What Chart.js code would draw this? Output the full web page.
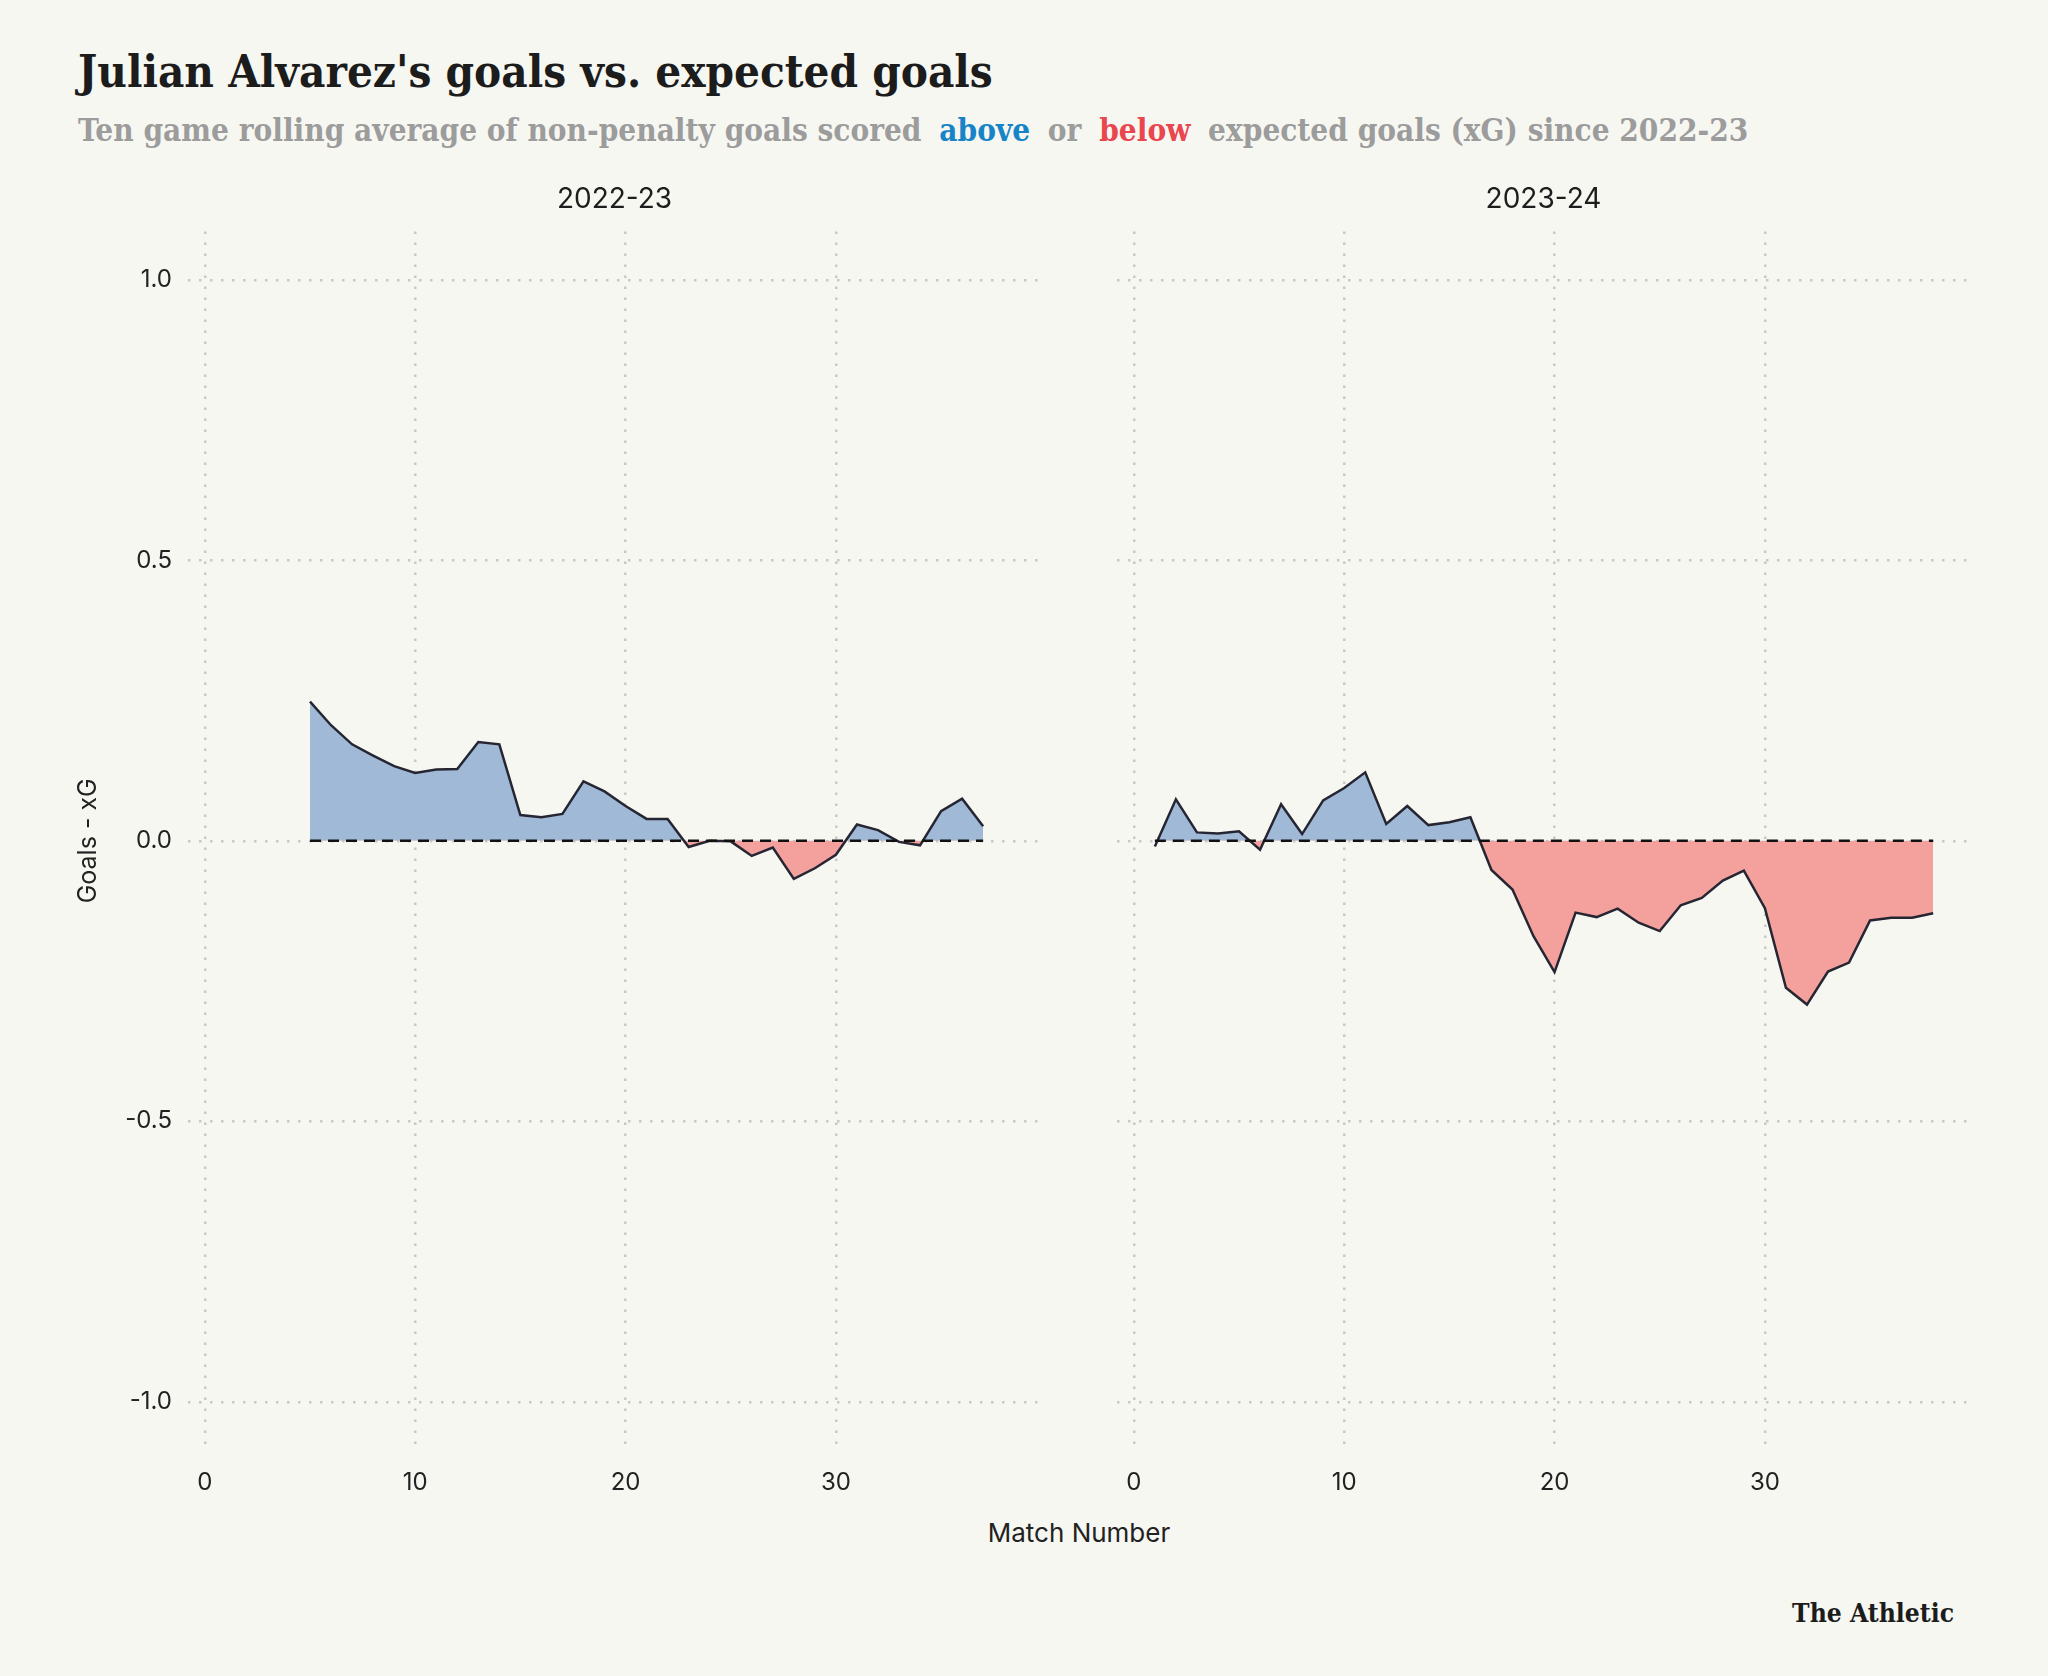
<!DOCTYPE html>
<html>
<head>
<meta charset="utf-8">
<script src="https://cdn.jsdelivr.net/npm/chart.js@4.4.1/dist/chart.umd.min.js"></script>
<style>
  body { margin: 0; background: #f7f7f2; width: 2048px; height: 1676px; position: relative; overflow: hidden; }
  .txt { position: absolute; white-space: nowrap; line-height: 1; }
  #title { left: 78px; top: 44px; font: bold 44px "DejaVu Serif Condensed", "DejaVu Serif", serif; color: #1c1c1c; }
  #subtitle { left: 78px; top: 112px; font: bold 32px "DejaVu Serif Condensed", "DejaVu Serif", serif; color: #9c9c9c; }
  #subtitle .above { color: #1784c7; margin: 0 8px; }
  #subtitle .below { color: #e9464f; margin: 0 8px; }
  #xtitle { left: 0; width: 2158px; top: 1517px; text-align: center; font: 26px Inter, sans-serif; color: #222; }
  #brand { right: 94px; top: 1597px; font: bold 29px "DejaVu Serif Condensed", "DejaVu Serif", serif; color: #1c1c1c; }
  canvas { position: absolute; }
  #panel1 { left: 40px; top: 170px; }
  #panel2 { left: 1117px; top: 170px; }
</style>
</head>
<body>
<div id="title" class="txt">Julian Alvarez's goals vs. expected goals</div>
<div id="subtitle" class="txt">Ten game rolling average of non-penalty goals scored <span class="above">above</span> or <span class="below">below</span> expected goals (xG) since 2022-23</div>
<canvas id="panel1" width="1001" height="1340"></canvas>
<canvas id="panel2" width="853" height="1340"></canvas>
<div id="xtitle" class="txt">Match Number</div>
<div id="brand" class="txt">The Athletic</div>

<script>
// Data -----------------------------------------------------------
const seasons = ["2022-23", "2023-24"];
const xTicks = [0, 10, 20, 30];
const yTicks = [-1.0, -0.5, 0.0, 0.5, 1.0];

// 2022-23: match number and rolling goals - xG
const matches2223 = [5, 6, 7, 8, 9, 10, 11, 12, 13, 14, 15, 16, 17, 18, 19, 20, 21,
    22, 23, 24, 25, 26, 27, 28, 29, 30, 31, 32, 33, 34, 35, 36, 37];
const diff2223 = [0.248, 0.206, 0.172, 0.152, 0.133, 0.121, 0.127, 0.128, 0.176, 0.172,
    0.046, 0.042, 0.048, 0.106, 0.088, 0.062, 0.039, 0.039, -0.011, 0.0, -0.001, -0.027,
    -0.012, -0.068, -0.049, -0.025, 0.029, 0.019, -0.002, -0.008, 0.053, 0.075, 0.026];

// 2023-24
const matches2324 = [1, 2, 3, 4, 5, 6, 7, 8, 9, 10, 11, 12, 13, 14, 15, 16, 17, 18, 19,
    20, 21, 22, 23, 24, 25, 26, 27, 28, 29, 30, 31, 32, 33, 34, 35, 36, 37, 38];
const diff2324 = [-0.01, 0.074, 0.015, 0.013, 0.017, -0.016, 0.065, 0.012, 0.072, 0.094,
    0.122, 0.030, 0.062, 0.028, 0.033, 0.042, -0.052, -0.087, -0.17, -0.234, -0.128,
    -0.136, -0.121, -0.146, -0.161, -0.115, -0.102, -0.071, -0.053, -0.12, -0.262, -0.292,
    -0.233, -0.217, -0.142, -0.137, -0.137, -0.129];

// Styles ----------------------------------------------------------
const fontFamily = "Inter, 'Noto Sans', sans-serif";
const gridColor = "#c8c8c8";

// Fit a text block to the width it has in the reference
function fitWidth(id, target) {
    let el = document.getElementById(id);
    let size = parseFloat(getComputedStyle(el).fontSize);
    let w = el.getBoundingClientRect().width;
    el.style.fontSize = (size * target / w) + "px";
}
fitWidth("title", 915);
fitWidth("subtitle", 1670);
fitWidth("brand", 162);

// Build one facet panel
function makePanel(canvasId, season, matches, values, showY) {
    let points = matches.map((m, i) => ({x: m, y: values[i]}));
    let zeroLine = [{x: matches[0], y: 0}, {x: matches[matches.length - 1], y: 0}];

    let config = {
        type: 'line',
        data: {
            datasets: [{
                data: points,
                borderColor: '#262633',
                borderWidth: 2.5,
                pointRadius: 0,
                tension: 0,
                fill: {target: {value: 0}, above: '#9fb9d6', below: '#f4a19d'},
                order: 1
            }, {
                data: zeroLine,
                borderColor: '#111111',
                borderWidth: 2.5,
                borderDash: [11, 7],
                pointRadius: 0,
                fill: false,
                order: 0
            }]
        },
        options: {
            responsive: false,
            animation: false,
            devicePixelRatio: 1,
            layout: {padding: 0},
            plugins: {
                legend: {display: false},
                tooltip: {enabled: false},
                title: {
                    display: true,
                    text: season,
                    fullSize: false,
                    color: '#1d1d1d',
                    font: {family: fontFamily, size: 28, weight: 'normal'},
                    padding: {top: 13, bottom: 15}
                }
            },
            scales: {
                x: {
                    type: 'linear',
                    min: -0.8,
                    max: 39.75,
                    afterBuildTicks: axis => { axis.ticks = xTicks.map(v => ({value: v})); },
                    afterFit: axis => { axis.height = 60; },
                    // invisible tick marks push the labels down without adding side padding
                    grid: {color: gridColor, lineWidth: 2.5, drawTicks: true, tickLength: 18, tickColor: 'rgba(0,0,0,0)'},
                    border: {display: false, dash: [2.5, 8.5]},
                    ticks: {color: '#222', font: {family: fontFamily, size: 24}, padding: 0, maxRotation: 0}
                },
                y: {
                    type: 'linear',
                    min: -1.086,
                    max: 1.086,
                    afterBuildTicks: axis => { axis.ticks = yTicks.map(v => ({value: v})); },
                    afterFit: axis => { axis.width = showY ? 148 : 0; },
                    grid: {color: gridColor, lineWidth: 2.5, drawTicks: false},
                    border: {display: false, dash: [2.5, 8.5]},
                    ticks: {
                        display: showY,
                        color: '#222',
                        font: {family: fontFamily, size: 24},
                        padding: 16,
                        callback: v => v.toFixed(1)
                    },
                    title: {
                        display: showY,
                        text: 'Goals - xG',
                        color: '#222',
                        font: {family: fontFamily, size: 25},
                        padding: {top: 33, bottom: 0}
                    }
                }
            }
        }
    };

    let ctx = document.getElementById(canvasId).getContext("2d");
    return new Chart(ctx, config);
}

makePanel("panel1", seasons[0], matches2223, diff2223, true);
makePanel("panel2", seasons[1], matches2324, diff2324, false);
</script>
</body>
</html>
